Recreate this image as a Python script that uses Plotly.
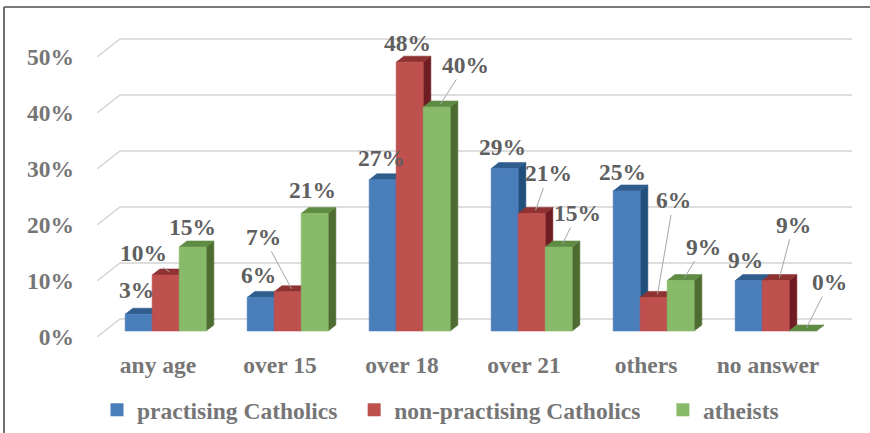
import plotly.graph_objects as go

# ---------------- data ----------------
categories = ["any age", "over 15", "over 18", "over 21", "others", "no answer"]
series_names = ["practising Catholics", "non-practising Catholics", "atheists"]
practising = [3, 6, 27, 29, 25, 9]
non_practising = [10, 7, 48, 21, 6, 9]
atheists = [15, 21, 40, 15, 9, 0]
y_ticks = [0, 10, 20, 30, 40, 50]
y_tick_labels = ["0%", "10%", "20%", "30%", "40%", "50%"]

series_values = [practising, non_practising, atheists]

# ---------------- style ----------------
FRONT = ["#4a7ebb", "#be504d", "#88ba6a"]
TOP = ["#2f5e8e", "#8e3331", "#5f8b43"]
SIDE = ["#214f7b", "#6f1d22", "#4e6b31"]
GRID = "#d4d4d4"
AXIS_TXT = "#767676"
LABEL_TXT = "#5f5f5f"
FONT = "Liberation Serif"
FS = 23.5
LEGEND_PAD = ["&nbsp;&nbsp;", "&nbsp;&nbsp;&nbsp;", ""]

# pixel layout
L, R, T, B = 97, 852, 20, 345
W_PX, H_PX = 870, 433
PX_PER_CAT = (R - L) / (6 + 23 / 122)
PX_PER_UNIT = 5.6
Y0_PX = 337
DX = 23 / PX_PER_CAT      # depth offset in x units
DY = 18 / PX_PER_UNIT     # depth offset in y units
BW = 27 / PX_PER_CAT      # bar width in x units
x_range = [-0.5, 5.5 + DX]
y_range = [-(B - Y0_PX) / PX_PER_UNIT, (Y0_PX - T) / PX_PER_UNIT]

# label offsets (pixels) and whether a leader line is drawn
LABEL_OFFSETS = [
    [(-6, -21, 0), (-6, -19, 0), (-5, -19, 0), (-6, -19, 0), (-8, -16, 0), (-7, -18, 0)],
    [(-26, -19, 1), (-28, -52, 1), (-6, -16, 0), (13, -37, 1), (16, -94, 1), (14, -53, 1)],
    [(-4, -17, 0), (-6, -20, 0), (25, -39, 1), (15, -31, 1), (19, -31, 1), (23, -46, 1)],
]

fig = go.Figure()

# back-wall gridlines with the diagonal side-wall part
for t in y_ticks:
    fig.add_trace(go.Scatter(
        x=[-0.5, -0.5 + DX, 5.5 + DX], y=[t, t + DY, t + DY],
        mode="lines", line=dict(color=GRID, width=1.4),
        hoverinfo="skip", showlegend=False))

def poly(xs, ys, color):
    fig.add_trace(go.Scatter(
        x=xs + [xs[0]], y=ys + [ys[0]], fill="toself", fillcolor=color,
        mode="lines", line=dict(color=color, width=0.6),
        hoverinfo="skip", showlegend=False))

d, e = DX / 3, DY / 3
annotations = []
for i, cat in enumerate(categories):
    for j in range(3):
        v = series_values[j][i]
        xc = i + d + (j - 1) * BW
        x0, x1 = xc - BW / 2, xc + BW / 2
        y0, y1 = e, e + v
        # side, top, front
        poly([x1, x1 + d, x1 + d, x1], [y0, y0 + e, y1 + e, y1], SIDE[j])
        poly([x0, x1, x1 + d, x0 + d], [y1, y1, y1 + e, y1 + e], TOP[j])
        if v > 0:
            poly([x0, x1, x1, x0], [y0, y0, y1, y1], FRONT[j])
        ax, ay, leader = LABEL_OFFSETS[j][i]
        annotations.append(dict(
            x=xc + d / 2, y=y1 + e / 2, ax=ax, ay=ay,
            text=f"{v:.0f}%", showarrow=True, arrowhead=0, arrowwidth=1,
            arrowcolor="#a6a6a6" if leader else "rgba(0,0,0,0)",
            standoff=0, startstandoff=0,
            font=dict(family=FONT, size=FS, color=LABEL_TXT, weight="bold")))

# legend entries
for j, name in enumerate(series_names):
    fig.add_trace(go.Scatter(
        x=[None], y=[None], mode="markers", name=name + LEGEND_PAD[j],
        marker=dict(symbol="square", size=13, color=FRONT[j])))

def px2paper_x(px):
    return (px - L) / (R - L)

def px2paper_y(py):
    return (B - py) / (B - T)

shapes = [
    dict(type="line", xref="paper", yref="paper",
         x0=px2paper_x(4), x1=px2paper_x(880), y0=px2paper_y(7), y1=px2paper_y(7),
         line=dict(color="#4d4d4d", width=1.6)),
    dict(type="line", xref="paper", yref="paper",
         x0=px2paper_x(4), x1=px2paper_x(4), y0=px2paper_y(7), y1=px2paper_y(440),
         line=dict(color="#4d4d4d", width=1.6)),
]

fig.update_layout(
    width=W_PX, height=H_PX,
    margin=dict(l=L, r=W_PX - R, t=T, b=H_PX - B, pad=0, autoexpand=False),
    paper_bgcolor="white", plot_bgcolor="white",
    xaxis=dict(range=x_range, tickvals=list(range(len(categories))), ticktext=categories,
               showgrid=False, zeroline=False, showline=False, ticks="",
               ticklabelstandoff=3, automargin=False,
               tickfont=dict(family=FONT, size=FS, color=AXIS_TXT, weight="bold")),
    yaxis=dict(range=y_range, tickvals=y_ticks, ticktext=y_tick_labels,
               showgrid=False, zeroline=False, showline=False, ticks="",
               ticklabelstandoff=22, automargin=False,
               tickfont=dict(family=FONT, size=FS, color=AXIS_TXT, weight="bold")),
    legend=dict(orientation="h", x=px2paper_x(97), xanchor="left",
                y=px2paper_y(410), yanchor="middle",
                font=dict(family=FONT, size=FS, color=AXIS_TXT, weight="bold"),
                itemsizing="trace", bgcolor="rgba(0,0,0,0)"),
    annotations=annotations,
    shapes=shapes,
)

fig.write_html("out.html")
